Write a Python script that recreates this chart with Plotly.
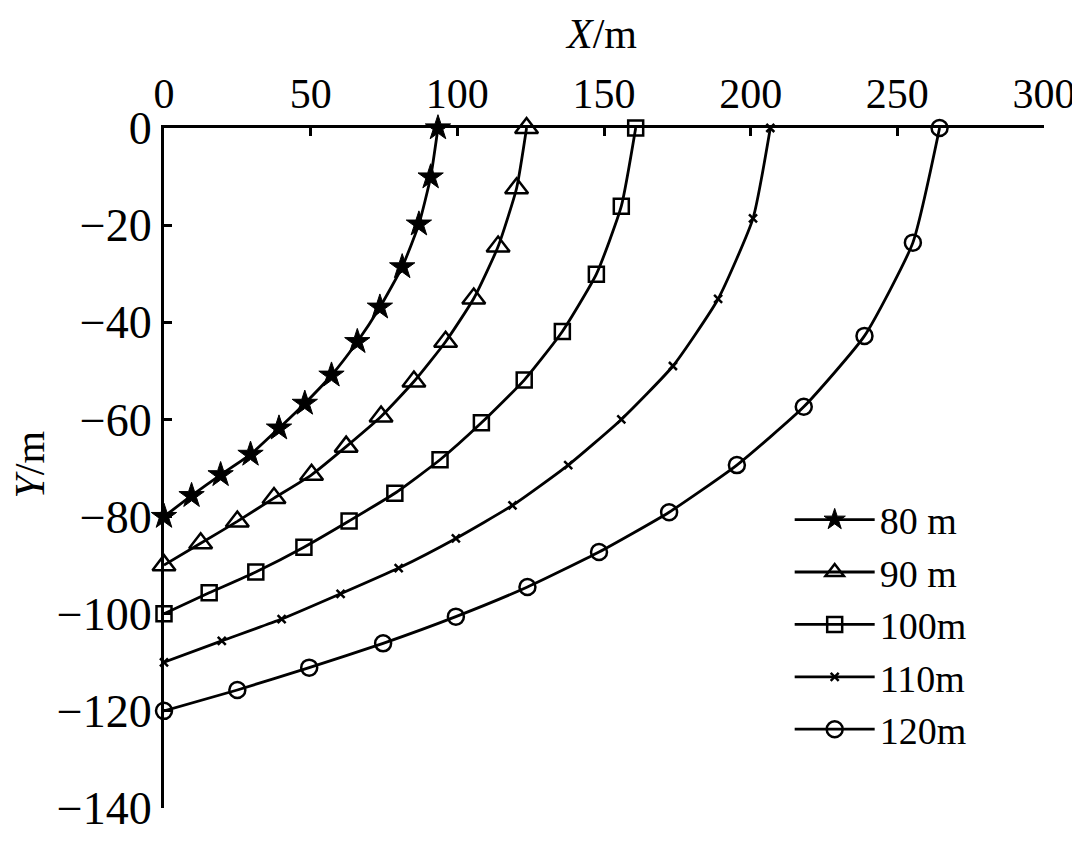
import plotly.graph_objects as go

names = ["80 m", "90 m", "100m", "110m", "120m"]

x80 = [93.4, 90.9, 86.9, 81.2, 73.6, 65.9, 57.1, 48.0, 39.2, 29.5, 19.3, 9.4, 0]
y80 = [0, -10.1, -19.8, -28.6, -36.9, -44.0, -50.9, -56.7, -61.8, -67.2, -71.4, -75.7, -80]

x90 = [123.6, 120.2, 113.9, 105.6, 96.0, 85.2, 74.0, 62.1, 50.3, 37.5, 25.0, 12.5, 0]
y90 = [0, -12.4, -24.4, -35.1, -44.0, -52.2, -59.4, -65.6, -71.4, -76.2, -81.0, -85.5, -90]

x100 = [160.8, 155.9, 147.4, 135.8, 122.8, 108.2, 94.1, 78.7, 63.1, 47.7, 31.3, 15.4, 0]
y100 = [0, -16.1, -30.1, -41.9, -51.9, -60.7, -68.3, -75.2, -80.9, -86.3, -91.4, -95.7, -100]

x110 = [206.7, 200.8, 188.9, 173.5, 155.9, 137.8, 118.8, 99.5, 80.0, 60.2, 40.1, 19.7, 0]
y110 = [0, -18.6, -35.2, -49.0, -60.0, -69.4, -77.7, -84.5, -90.6, -95.9, -101.1, -105.6, -110]

x120 = [264.4, 255.3, 238.8, 218.1, 195.3, 172.2, 148.3, 123.9, 99.5, 74.7, 49.5, 25.0, 0]
y120 = [0, -23.6, -42.8, -57.4, -69.4, -79.1, -87.3, -94.5, -100.6, -106.1, -111.1, -115.7, -120]

x_ticks = [0, 50, 100, 150, 200, 250, 300]
y_ticks = [0, -20, -40, -60, -80, -100, -120, -140]

series = [
    (x80, y80, "star", 19, 1),
    (x90, y90, "triangle-up-open", 20, 2.5),
    (x100, y100, "square-open", 15, 2.5),
    (x110, y110, "x-thin-open", 8, 2.5),
    (x120, y120, "circle-open", 16, 2.5),
]

FONT = "Liberation Serif"
fig = go.Figure()
for (xs, ys, sym, sz, mlw), nm in zip(series, names):
    fig.add_trace(go.Scatter(
        x=xs, y=ys, name=nm, mode="lines+markers",
        line=dict(color="black", width=2.8, shape="spline", smoothing=0.5),
        marker=dict(symbol=sym, size=sz, color="black",
                    line=dict(color="black", width=mlw)),
        cliponaxis=False,
    ))

fig.update_layout(
    width=1072, height=833,
    paper_bgcolor="white", plot_bgcolor="white",
    margin=dict(l=156, r=36, t=120, b=33),
    font=dict(family=FONT, size=40, color="black"),
    showlegend=True,
    legend=dict(x=0.711, y=0.47, xanchor="left", yanchor="top",
                bgcolor="rgba(0,0,0,0)", font=dict(size=38, family=FONT),
                itemwidth=80, tracegroupgap=0),
    xaxis=dict(side="top", range=[0, 300], tickvals=x_ticks,
               showline=True, linecolor="black", linewidth=3,
               ticks="inside", ticklen=8, tickwidth=2.5, tickcolor="black",
               showgrid=False, zeroline=False, automargin=False,
               tickfont=dict(size=42, family=FONT), ticklabelstandoff=0),
    yaxis=dict(range=[-140, 0], tickvals=y_ticks,
               showline=True, linecolor="black", linewidth=3,
               ticks="inside", ticklen=8, tickwidth=2.5, tickcolor="black",
               showgrid=False, zeroline=False, automargin=False,
               tickfont=dict(size=46, family=FONT), ticklabelstandoff=0),
    annotations=[
        dict(text="<i>X</i>/m", xref="paper", yref="paper", x=0.497, y=1.0,
             yshift=94, showarrow=False, font=dict(size=42, family=FONT),
             xanchor="center", yanchor="middle"),
        dict(text="<i>Y</i>/m", xref="paper", yref="paper", x=0, y=0.505,
             xshift=-134, showarrow=False, textangle=-90,
             font=dict(size=42, family=FONT), xanchor="center", yanchor="middle"),
    ],
)

fig.write_html("out.html")
